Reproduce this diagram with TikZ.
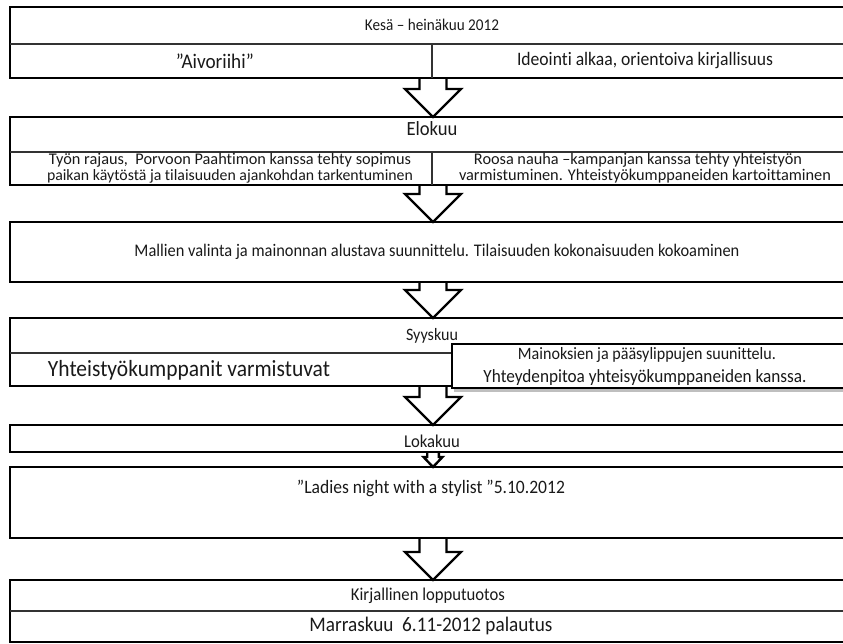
\documentclass[tikz,border=0pt]{standalone}
\usepackage{fontspec}
\setmainfont{Carlito}[RawFeature={-liga;-clig;-dlig}]
\usetikzlibrary{calc,backgrounds}
\newcommand\fitw[2]{\scalebox{1}[1.08]{\resizebox{#1pt}{!}{#2}}}
\newcommand\fitn[2]{\resizebox{#1pt}{!}{#2}}
\newcommand\blkarr[5]{%
  \draw[barrow] ($(ax|-#1.south)+(-#3,0)$) -- ($(ax|-#2.north)+(-#3,-#5)$)
    -- ($(ax|-#2.north)+(-#4,-#5)$) -- (ax|-#2.north)
    -- ($(ax|-#2.north)+(#4,-#5)$) -- ($(ax|-#2.north)+(#3,-#5)$)
    -- ($(ax|-#1.south)+(#3,0)$);}
\begin{document}
\begin{tikzpicture}[x=1pt,y=-1pt,
  font=\fontsize{14}{16}\selectfont,
  box/.style={draw=black, line width=2.6pt, rectangle, inner sep=0pt, outer sep=0pt,
    anchor=north west, minimum width=850pt},
  div/.style={line width=1.8pt, draw=black!80},
  barrow/.style={draw=black, line width=2.4pt, fill=white, line join=miter},
  lbl/.style={inner sep=0pt, text=black!90}]
\useasboundingbox (0,0) rectangle (843,643);
\clip (0,0) rectangle (843,643);
\coordinate (ax) at (433,0);

% boxes
\node[box, minimum height=71pt] (b1) at (10,7) {};
\node[box, minimum height=68pt] (b2) at (10,117) {};
\node[box, minimum height=60pt] (b3) at (10,222) {};
\node[box, minimum height=68pt] (b4) at (10,318) {};
\node[box, minimum height=27pt] (b5) at (10,425) {};
\node[box, minimum height=71pt] (b6) at (10,467) {};
\node[box, minimum height=62pt] (b7) at (10,580) {};

% dividers
\draw[div] (10,44) -- (860,44);
\draw[div] (432,44) -- (432,78);
\draw[div] (10,152) -- (860,152);
\draw[div] (432,152) -- (432,185);
\draw[div] (10,353) -- (460,353);
\draw[div] (10,611) -- (860,611);

% overlapping box in September row
\fill[black!25] (454,388) rectangle (860,392);
\node[box, minimum width=410pt, minimum height=44pt, fill=white] (r4) at (452,344) {};

% block arrows
\begin{scope}[on background layer]
\blkarr{b1}{b2}{13.5}{28}{28}
\blkarr{b2}{b3}{13.5}{28}{28}
\blkarr{b3}{b4}{13.5}{28}{28}
\blkarr{b4}{b5}{13.5}{28}{28}
\blkarr{b5}{b6}{5.8}{9.5}{10}
\blkarr{b6}{b7}{13.5}{28}{28}
\end{scope}

% texts
\node[lbl] (t1) at (432,25) {\fitw{134}{Kesä – heinäkuu 2012}};
\node[lbl] (t2) at (215,61) {\fitw{78}{”Aivoriihi”}};
\node[lbl] (t3) at (645,61) {\fitw{256}{Ideointi alkaa, orientoiva kirjallisuus}};
\node[lbl] (t4) at (432,129) {\fitw{51}{Elokuu}};
\node[lbl] (t5a) at (230,160) {\fitn{362}{Työn rajaus,\ \ Porvoon Paahtimon kanssa tehty sopimus}};
\node[lbl] (t5b) at (230,176.5) {\fitn{366}{paikan käytöstä ja tilaisuuden ajankohdan tarkentuminen}};
\node[lbl] (t6a) at (638,160) {\fitn{328}{Roosa nauha –kampanjan kanssa tehty yhteistyön}};
\node[lbl] (t6b) at (645,176.5) {\fitn{372}{varmistuminen. Yhteistyökumppaneiden kartoittaminen}};
\node[lbl] (t7) at (437,252) {\fitw{605}{Mallien valinta ja mainonnan alustava suunnittelu. Tilaisuuden kokonaisuuden kokoaminen}};
\node[lbl] (t8) at (432,336) {\fitw{52}{Syyskuu}};
\node[lbl] (t9) at (189,370) {\fitw{282}{Yhteistyökumppanit varmistuvat}};
\node[lbl] (t10) at (647,355) {\fitw{258}{Mainoksien ja pääsylippujen suunittelu.}};
\node[lbl] (t11) at (645,378) {\fitw{323}{Yhteydenpitoa yhteisyökumppaneiden kanssa.}};
\node[lbl] (t12) at (432,441) {\fitw{56}{Lokakuu}};
\node[lbl] (t13) at (431,488) {\fitw{268}{”Ladies night with a stylist ”5.10.2012}};
\node[lbl] (t14) at (428,596) {\fitw{154}{Kirjallinen lopputuotos}};
\node[lbl] (t15) at (431,626) {\fitw{243}{Marraskuu\ \ 6.11-2012 palautus}};
\end{tikzpicture}
\end{document}
